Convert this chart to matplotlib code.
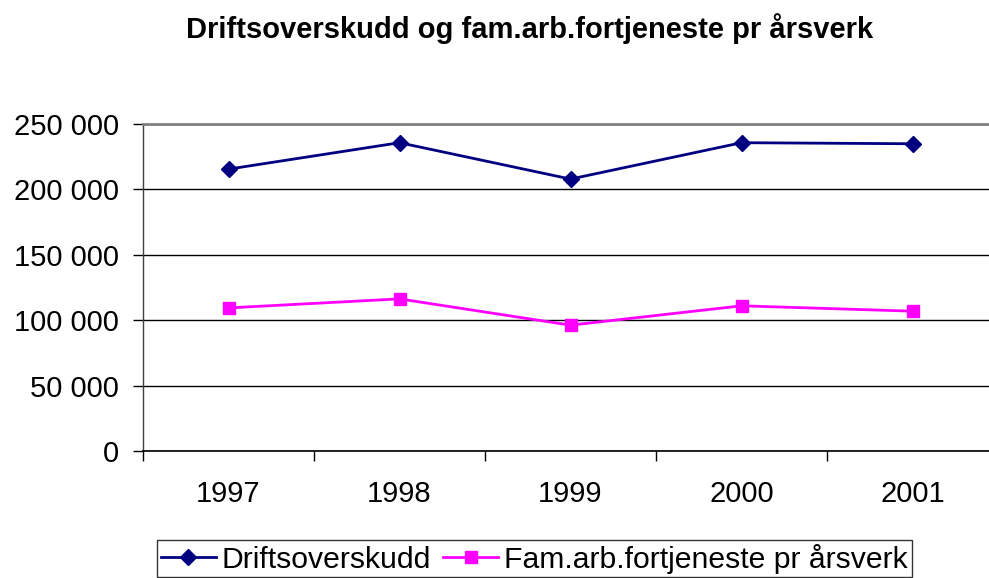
import matplotlib
matplotlib.use("Agg")
import matplotlib.pyplot as plt
from matplotlib.ticker import FixedLocator

plt.rcParams['font.family'] = ['Liberation Sans', 'DejaVu Sans']

years = ["1997", "1998", "1999", "2000", "2001"]
drift = [215500, 235700, 207900, 235700, 234900]
famarb = [109400, 116300, 96200, 111000, 106900]
yticks = [0, 50000, 100000, 150000, 200000, 250000]
ytick_labels = ["0", "50 000", "100 000", "150 000", "200 000", "250 000"]
title = "Driftsoverskudd og fam.arb.fortjeneste pr årsverk"
names = ["Driftsoverskudd", "Fam.arb.fortjeneste pr årsverk"]

W, H = 989, 578
fig = plt.figure(figsize=(W / 100, H / 100), dpi=100)
ax = fig.add_axes([143 / W, 1 - 451 / H, 855 / W, (451 - 124) / H])

x = list(range(len(years)))
l1, = ax.plot(x, drift, color="#000080", lw=2, marker="D", ms=8, clip_on=False)
l2, = ax.plot(x, famarb, color="#FF00FF", lw=2, marker="s", ms=9, clip_on=False)

ax.set_xlim(-0.5, len(years) - 0.5)
ax.set_ylim(0, 250000)
ax.set_yticks(yticks)
ax.set_yticklabels(ytick_labels)
ax.set_xticks(x)
ax.set_xticklabels(years)
ax.xaxis.set_minor_locator(FixedLocator([i - 0.5 for i in range(len(years) + 1)]))

ax.tick_params(axis="y", length=7, width=1, color="black", pad=10.5, labelsize=21)
ax.tick_params(axis="x", which="major", length=0, pad=21, labelsize=21)
ax.tick_params(axis="x", which="minor", length=7, width=1, color="black", direction="out")

ax.grid(axis="y", color="black", lw=1)
ax.set_axisbelow(True)
ax.spines["right"].set_visible(False)
ax.spines["top"].set_color("#808080")
ax.spines["top"].set_linewidth(2)
ax.spines["left"].set_color("#404040")
ax.spines["left"].set_linewidth(1)
ax.spines["bottom"].set_color("black")
ax.spines["bottom"].set_linewidth(1.2)

fig.text(530 / W, 1 - 29 / H, title, ha="center", va="center", fontsize=21, fontweight="bold")

leg = fig.legend([l1, l2], names, loc="upper left", bbox_to_anchor=(157 / W, 1 - 540 / H),
                 ncol=2, fontsize=21.7, frameon=True, fancybox=False, edgecolor="black",
                 handlelength=1.83, handletextpad=0.2, columnspacing=0.4,
                 borderpad=0.12, borderaxespad=0)
leg.get_frame().set_linewidth(1)

fig.savefig("out.png", dpi=100)
